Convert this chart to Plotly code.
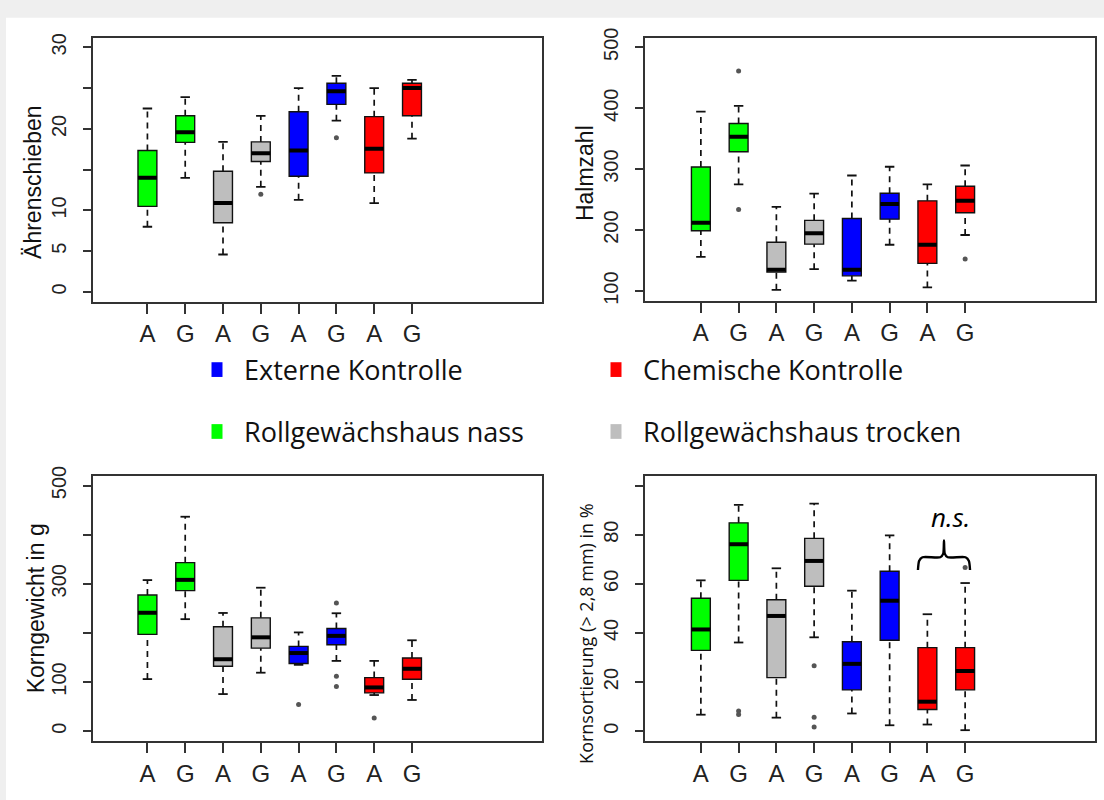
import plotly.graph_objects as go

W, H = 1104, 800

# ---------------- data ----------------
groups = ["A", "G", "A", "G", "A", "G", "A", "G"]
positions = [1, 2, 3, 4, 5, 6, 7, 8]
box_colors = ["#00FF00", "#00FF00", "#BEBEBE", "#BEBEBE",
              "#0000FF", "#0000FF", "#FF0000", "#FF0000"]

legend_labels = ["Externe Kontrolle", "Chemische Kontrolle",
                 "Rollgewächshaus nass", "Rollgewächshaus trocken"]
legend_colors = ["#0000FF", "#FF0000", "#00FF00", "#BEBEBE"]

# Panel 1: Ährenschieben
p1_lo = [8.0, 14.0, 4.6, 12.9, 11.3, 21.0, 10.9, 18.8]
p1_q1 = [10.5, 18.35, 8.5, 16.0, 14.2, 23.0, 14.6, 21.6]
p1_med = [14.0, 19.6, 10.9, 17.0, 17.35, 24.6, 17.55, 25.0]
p1_q3 = [17.35, 21.6, 14.8, 18.4, 22.1, 25.6, 21.5, 25.6]
p1_hi = [22.5, 23.9, 18.4, 21.6, 25.0, 26.5, 25.0, 26.0]
p1_out_x = [4, 6]
p1_out_y = [12.0, 18.9]

# Panel 2: Halmzahl
p2_lo = [156, 275, 102, 136, 117, 176, 106, 192]
p2_q1 = [199, 328.6, 131, 177, 125, 218, 145.5, 228.5]
p2_med = [212, 353, 135, 195, 135, 243, 176, 248]
p2_q3 = [303.5, 375, 180, 216, 219, 260.6, 248, 272]
p2_hi = [394.5, 404, 238, 260, 289.6, 304, 275, 306]
p2_out_x = [2, 2, 8]
p2_out_y = [461, 234, 152.5]

# Panel 3: Korngewicht in g
p3_lo = [106, 228, 75.5, 119, 135, 143, 73.5, 63.5]
p3_q1 = [197, 286, 132, 169, 137.7, 176, 78, 105.6]
p3_med = [241, 308, 146.4, 191, 159, 194, 89, 127]
p3_q3 = [277, 343, 212.6, 230.6, 172.5, 209, 109, 149]
p3_hi = [307.5, 436.5, 240.6, 292, 201, 240, 143, 185]
p3_out_x = [5, 6, 6, 6, 7]
p3_out_y = [54, 261, 111.6, 91, 27]

# Panel 4: Kornsortierung
p4_lo = [6.7, 36.1, 5.5, 38.2, 7.2, 2.4, 2.7, 0.4]
p4_q1 = [32.9, 61.4, 21.8, 59.0, 16.8, 37.0, 8.8, 16.8]
p4_med = [41.4, 76.1, 46.9, 69.3, 27.4, 53.1, 12.0, 24.5]
p4_q3 = [54.1, 84.8, 53.5, 78.5, 36.4, 65.1, 34.0, 34.0]
p4_hi = [61.4, 92.1, 66.3, 92.6, 57.2, 79.7, 47.6, 60.3]
p4_out_x = [2, 2, 4, 4, 4, 8]
p4_out_y = [8.2, 6.8, 26.6, 5.7, 1.7, 66.6]

# y tick labels
p1_ticks = [0, 5, 10, 15, 20, 25, 30]
p1_ticktext = ["0", "5", "10", "", "20", "", "30"]
p2_ticks = [100, 200, 300, 400, 500]
p2_ticktext = ["100", "200", "300", "400", "500"]
p3_ticks = [0, 100, 200, 300, 400, 500]
p3_ticktext = ["0", "100", "", "300", "", "500"]
p4_ticks = [0, 20, 40, 60, 80, 100]
p4_ticktext = ["0", "20", "40", "60", "80", ""]

ns_text = "<i>n.s.</i>"
ns_pos = (7.6, 87.2)
brace_x = (6.75, 8.13)
brace_y = (65.6, 70.8, 77.6)  # ends, bar, peak

# ---------------- layout geometry (pixels) ----------------
frames = {
    1: dict(x0=93, x1=542, y0=28, y1=297, xr=[-0.44, 11.44], yr=[-1.2, 31.2]),
    2: dict(x0=645, x1=1095, y0=28, y1=296, xr=[-0.48, 11.44], yr=[84, 516]),
    3: dict(x0=93, x1=542, y0=474, y1=744, xr=[-0.44, 11.44], yr=[-20, 520]),
    4: dict(x0=645, x1=1095, y0=474, y1=744, xr=[-0.48, 11.44], yr=[-4, 104]),
}

panels = {
    1: (p1_lo, p1_q1, p1_med, p1_q3, p1_hi, p1_out_x, p1_out_y, p1_ticks, p1_ticktext),
    2: (p2_lo, p2_q1, p2_med, p2_q3, p2_hi, p2_out_x, p2_out_y, p2_ticks, p2_ticktext),
    3: (p3_lo, p3_q1, p3_med, p3_q3, p3_hi, p3_out_x, p3_out_y, p3_ticks, p3_ticktext),
    4: (p4_lo, p4_q1, p4_med, p4_q3, p4_hi, p4_out_x, p4_out_y, p4_ticks, p4_ticktext),
}

BOXW = 0.5
CAPW = 0.25
fig = go.Figure()
layout = {}

for k, (lo, q1, med, q3, hi, ox, oy, tv, tt) in panels.items():
    f = frames[k]
    xa = "x" if k == 1 else f"x{k}"
    ya = "y" if k == 1 else f"y{k}"
    # whiskers (dashed)
    wx, wy = [], []
    for p, a, b, c, d in zip(positions, lo, q1, q3, hi):
        wx += [p, p, None, p, p, None]
        wy += [a, b, None, c, d, None]
    fig.add_trace(go.Scatter(x=wx, y=wy, mode="lines", xaxis=xa, yaxis=ya,
                             line=dict(color="#111", width=1.7, dash="6px,5px"),
                             showlegend=False, hoverinfo="skip"))
    # caps
    cx, cy = [], []
    for p, a, d in zip(positions, lo, hi):
        cx += [p - CAPW / 2, p + CAPW / 2, None, p - CAPW / 2, p + CAPW / 2, None]
        cy += [a, a, None, d, d, None]
    fig.add_trace(go.Scatter(x=cx, y=cy, mode="lines", xaxis=xa, yaxis=ya,
                             line=dict(color="#111", width=1.8),
                             showlegend=False, hoverinfo="skip"))
    # boxes
    fig.add_trace(go.Bar(x=positions, base=q1,
                         y=[b - a for a, b in zip(q1, q3)],
                         width=BOXW, xaxis=xa, yaxis=ya,
                         marker=dict(color=box_colors, line=dict(color="#111", width=1.4)),
                         showlegend=False, hoverinfo="skip"))
    # medians
    mx, my = [], []
    for p, m in zip(positions, med):
        mx += [p - BOXW / 2, p + BOXW / 2, None]
        my += [m, m, None]
    fig.add_trace(go.Scatter(x=mx, y=my, mode="lines", xaxis=xa, yaxis=ya,
                             line=dict(color="#000", width=4),
                             showlegend=False, hoverinfo="skip"))
    # outliers
    fig.add_trace(go.Scatter(x=ox, y=oy, mode="markers", xaxis=xa, yaxis=ya,
                             marker=dict(color="#555", size=5),
                             showlegend=False, hoverinfo="skip"))

    xkey = "xaxis" if k == 1 else f"xaxis{k}"
    ykey = "yaxis" if k == 1 else f"yaxis{k}"
    layout[xkey] = dict(
        domain=[f["x0"] / W, f["x1"] / W], range=f["xr"], anchor=ya,
        tickvals=positions, ticktext=groups, ticks="outside", ticklen=10,
        tickcolor="#333", tickwidth=1.5,
        tickfont=dict(family="Liberation Sans, Arial", size=24, color="#222"),
        showline=True, mirror=True, linecolor="#333", linewidth=1.6,
        showgrid=False, zeroline=False, fixedrange=True,
    )
    layout[ykey] = dict(
        domain=[1 - f["y1"] / H, 1 - f["y0"] / H], range=f["yr"], anchor=xa,
        tickvals=tv, ticktext=tt, ticks="outside", ticklen=8,
        tickcolor="#333", tickwidth=1.5, tickangle=-90,
        tickfont=dict(family="Liberation Sans, Arial", size=20, color="#222"),
        showline=True, mirror=True, linecolor="#333", linewidth=1.6,
        showgrid=False, zeroline=False, fixedrange=True, ticklabelstandoff=9,
    )

# brace in panel 4
bx0, bx1 = brace_x
ye, yb, yp = brace_y
xc = (bx0 + bx1) / 2
brx = [bx0, bx0 + 0.03, bx0 + 0.12, xc - 0.1, xc - 0.02, xc, xc + 0.02, xc + 0.1,
       bx1 - 0.12, bx1 - 0.03, bx1]
bry = [ye, yb - 1.5, yb, yb, yb + 1.5, yp, yb + 1.5, yb, yb, yb - 1.5, ye]
fig.add_trace(go.Scatter(x=brx, y=bry, mode="lines", xaxis="x4", yaxis="y4",
                         line=dict(color="#000", width=2.4, shape="spline", smoothing=0.6),
                         showlegend=False, hoverinfo="skip"))

annotations = [
    dict(text=ns_text, x=ns_pos[0], y=ns_pos[1], xref="x4", yref="y4",
         showarrow=False, font=dict(family="Open Sans", size=26, color="#000"),
         xanchor="center", yanchor="middle"),
]
# y axis titles
ytitles = [
    ("Ährenschieben", 33, 176, dict(family="Liberation Sans, Arial", size=23, color="#111")),
    ("Halmzahl", 585, 166, dict(family="Liberation Sans, Arial", size=23, color="#111")),
    ("Korngewicht in g", 36, 609, dict(family="Liberation Sans, Arial", size=23, color="#111")),
    ("Kornsortierung (> 2,8 mm) in %", 586, 635, dict(family="Open Sans", size=18, color="#111")),
]
for txt, px, py, fnt in ytitles:
    annotations.append(dict(text=txt, x=px / W, y=1 - py / H, xref="paper", yref="paper",
                            showarrow=False, textangle=-90, font=fnt,
                            xanchor="center", yanchor="middle"))

# legend (2x2)
leg_sq = [(217, 366), (616, 366), (217, 429), (616, 429)]
shapes = [
    dict(type="rect", xref="paper", yref="paper", x0=6 / W, x1=1.02, y0=-0.02, y1=1 - 8 / H,
         fillcolor="white", line=dict(width=0), layer="below"),
]
for (sx, sy), lab, col in zip(leg_sq, legend_labels, legend_colors):
    shapes.append(dict(type="rect", xref="paper", yref="paper",
                       x0=(sx - 5.5) / W, x1=(sx + 5.5) / W,
                       y0=1 - (sy + 7.5) / H, y1=1 - (sy - 7.5) / H,
                       fillcolor=col, line=dict(width=0)))
    annotations.append(dict(text=lab, x=(sx + 25) / W, y=1 - sy / H, xref="paper", yref="paper",
                            showarrow=False, xanchor="left", yanchor="middle",
                            font=dict(family="Open Sans", size=27, color="#111")))

fig.update_layout(
    width=W, height=H, margin=dict(l=0, r=0, t=0, b=0),
    paper_bgcolor="#EFEFEF", plot_bgcolor="white",
    showlegend=False, annotations=annotations, shapes=shapes,
    **layout,
)

fig.write_html("out.html", config={"displayModeBar": False},
               post_script="document.body.style.margin='0';")
